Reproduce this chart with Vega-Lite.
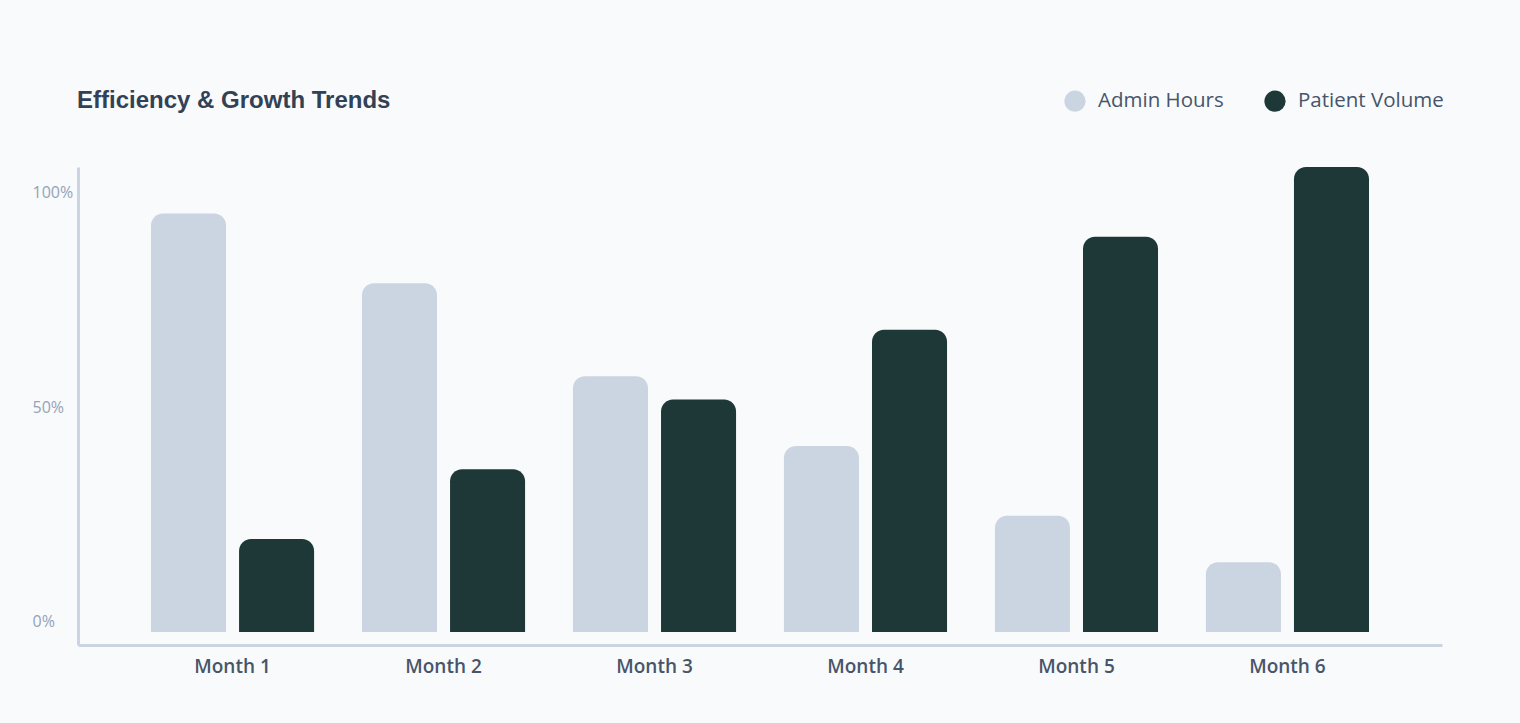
{
  "$schema": "https://vega.github.io/schema/vega-lite/v6.json",
  "width": 1364,
  "height": 478,
  "autosize": {"type": "none"},
  "padding": {"left": 78, "top": 167, "right": 78, "bottom": 78},
  "background": "#f8fafc",
  "title": {
    "text": "Efficiency & Growth Trends",
    "anchor": "start",
    "frame": "group",
    "font": "Liberation Sans",
    "fontSize": 24,
    "fontWeight": "bold",
    "color": "#334155",
    "offset": -23,
    "dx": -1
  },
  "data": {
    "values": [
      {"month": "Month 1", "series": "Admin Hours", "value": 90},
      {"month": "Month 1", "series": "Patient Volume", "value": 20},
      {"month": "Month 2", "series": "Admin Hours", "value": 75},
      {"month": "Month 2", "series": "Patient Volume", "value": 35},
      {"month": "Month 3", "series": "Admin Hours", "value": 55},
      {"month": "Month 3", "series": "Patient Volume", "value": 50},
      {"month": "Month 4", "series": "Admin Hours", "value": 40},
      {"month": "Month 4", "series": "Patient Volume", "value": 65},
      {"month": "Month 5", "series": "Admin Hours", "value": 25},
      {"month": "Month 5", "series": "Patient Volume", "value": 85},
      {"month": "Month 6", "series": "Admin Hours", "value": 15},
      {"month": "Month 6", "series": "Patient Volume", "value": 100}
    ]
  },
  "mark": {"type": "bar", "cornerRadiusTopLeft": 12, "cornerRadiusTopRight": 12},
  "encoding": {
    "x": {
      "field": "month",
      "type": "nominal",
      "sort": null,
      "scale": {"paddingInner": 0.227, "paddingOuter": 0.346},
      "axis": {
        "title": null,
        "labelAngle": 0,
        "ticks": false,
        "domainColor": "#cbd5e1",
        "domainWidth": 3,
        "labelFont": "Open Sans",
        "labelFontSize": 19,
        "labelFontWeight": 600,
        "labelColor": "#475569",
        "labelPadding": 12
      }
    },
    "xOffset": {
      "field": "series",
      "type": "nominal",
      "scale": {"paddingInner": 0.148, "paddingOuter": 0}
    },
    "y": {
      "field": "value",
      "type": "quantitative",
      "scale": {"domain": [-2.8, 100], "nice": false, "zero": false},
      "axis": {
        "title": null,
        "values": [0, 50, 100],
        "labelExpr": "datum.value + '%'",
        "grid": false,
        "ticks": false,
        "tickSize": 0,
        "domainColor": "#cbd5e1",
        "domainWidth": 3,
        "labelAlign": "left",
        "labelBaseline": "middle",
        "labelPadding": 46,
        "labelFlush": false,
        "labelOverlap": false,
        "labelBound": false,
        "labelFont": "Open Sans",
        "labelFontSize": 16,
        "labelColor": "#94a3b8",
        "labelOffset": {
          "condition": [
            {"test": "datum.value == 100", "value": 25},
            {"test": "datum.value == 50", "value": 8}
          ],
          "value": -10
        }
      }
    },
    "y2": {"datum": 0},
    "color": {
      "field": "series",
      "type": "nominal",
      "scale": {"domain": ["Admin Hours", "Patient Volume"], "range": ["#cbd5e1", "#1e3838"]},
      "legend": {
        "title": null,
        "orient": "none",
        "direction": "horizontal",
        "legendX": 986,
        "legendY": -77,
        "symbolType": "circle",
        "symbolSize": 450,
        "symbolStrokeWidth": 0,
        "labelFont": "Open Sans",
        "labelFontSize": 20.5,
        "labelColor": "#475569",
        "labelOffset": 12,
        "columnPadding": 40
      }
    }
  },
  "config": {
    "view": {"stroke": null}
  }
}
